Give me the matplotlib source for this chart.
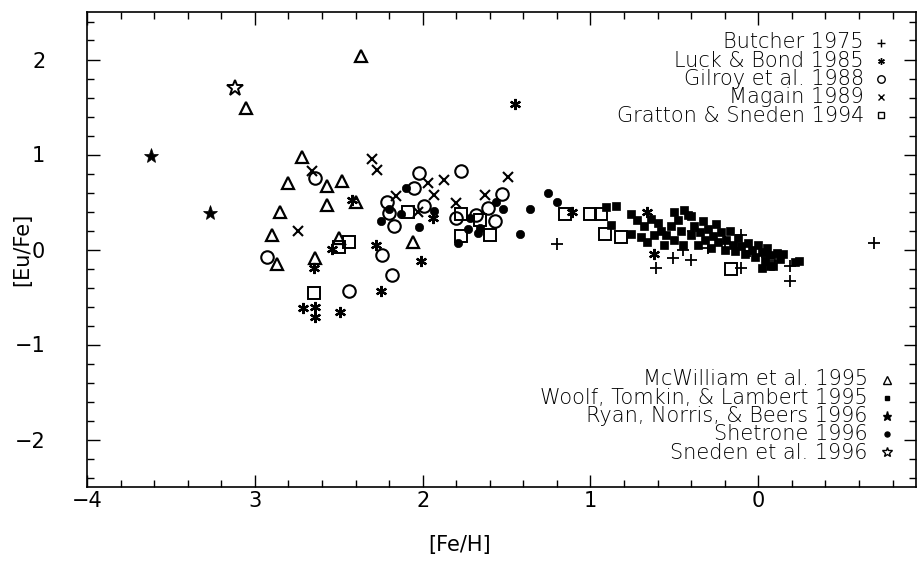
import matplotlib
matplotlib.use("Agg")
import matplotlib.pyplot as plt
from matplotlib.ticker import MultipleLocator, FixedLocator

# ---------------- data ([Fe/H], [Eu/Fe]) ----------------
butcher_x = [-1.20, -0.61, -0.51, -0.40, -0.39, -0.10, -0.10, 0.19, 0.19, 0.69,
             -0.30, -0.20, -0.05, 0.05, -0.45, 0.10]
butcher_y = [0.06, -0.19, -0.09, -0.11, 0.20, 0.15, -0.19, -0.17, -0.33, 0.07,
             0.02, 0.08, -0.02, -0.08, 0.00, -0.12]

luck_x = [-2.42, -2.54, -2.28, -2.65, -2.71, -2.64, -2.64, -2.49, -2.25, -2.01,
          -1.94, -1.11, -0.66, -0.62, -1.45]
luck_y = [0.52, 0.01, 0.05, -0.19, -0.62, -0.60, -0.71, -0.66, -0.44, -0.12,
          0.33, 0.39, 0.39, -0.05, 1.53]

gilroy_x = [-2.64, -2.93, -2.24, -2.18, -2.44, -2.21, -2.20, -2.17, -2.02, -2.05,
            -1.77, -1.99, -1.80, -1.68, -1.61, -1.53, -1.57]
gilroy_y = [0.75, -0.08, -0.06, -0.27, -0.44, 0.50, 0.38, 0.25, 0.81, 0.65,
            0.83, 0.46, 0.33, 0.36, 0.44, 0.58, 0.30]

magain_x = [-2.66, -2.30, -2.27, -2.74, -2.16, -1.97, -1.87, -1.49, -1.93, -1.63,
            -1.80, -2.03]
magain_y = [0.83, 0.95, 0.84, 0.20, 0.56, 0.70, 0.73, 0.76, 0.57, 0.57,
            0.49, 0.39]

gratton_x = [-2.44, -2.50, -2.65, -2.09, -1.77, -1.66, -1.77, -1.60, -1.15, -1.00,
             -0.94, -0.915, -0.815, -0.16]
gratton_y = [0.08, 0.03, -0.46, 0.39, 0.37, 0.31, 0.14, 0.15, 0.37, 0.37,
             0.37, 0.16, 0.13, -0.21]

mcwilliam_x = [-2.37, -3.05, -2.72, -2.80, -2.57, -2.48, -2.57, -2.40, -2.85, -2.90,
               -2.87, -2.50, -2.64, -2.06]
mcwilliam_y = [2.04, 1.49, 0.97, 0.70, 0.67, 0.72, 0.47, 0.50, 0.40, 0.15,
               -0.15, 0.12, -0.09, 0.08]

woolf_x = [-0.85, -0.76, -0.72, -0.68, -0.70, -0.66, -0.875, -0.91, -0.60, -0.58,
           -0.55, -0.52, -0.50, -0.48, -0.46, -0.45, -0.44, -0.50, -0.42, -0.40,
           -0.38, -0.36, -0.35, -0.32, -0.30, -0.28, -0.27, -0.25, -0.24, -0.22,
           -0.20, -0.19, -0.17, -0.15, -0.14, -0.12, -0.10, -0.08, -0.06, -0.04,
           -0.02, 0.00, 0.02, 0.04, 0.05, 0.07, 0.09, 0.11, 0.13, 0.15,
           0.02, 0.07, 0.22, 0.24, -0.64, -0.56, -0.62, -0.33, -0.40, -0.76]
woolf_y = [0.46, 0.37, 0.31, 0.25, 0.13, 0.08, 0.26, 0.45, 0.28, 0.20,
           0.15, 0.25, 0.10, 0.31, 0.20, 0.05, 0.42, 0.40, 0.36, 0.15,
           0.25, 0.05, 0.18, 0.10, 0.22, 0.02, 0.14, 0.27, 0.08, 0.18,
           0.00, 0.10, 0.20, 0.05, -0.02, 0.12, 0.04, -0.05, 0.07, 0.00,
           -0.08, 0.05, -0.03, -0.12, 0.02, -0.06, -0.17, -0.04, -0.10, -0.05,
           -0.19, -0.17, -0.13, -0.12, 0.32, 0.05, 0.15, 0.30, 0.35, 0.16]

ryan_x = [-3.62, -3.27]
ryan_y = [0.98, 0.38]

shetrone_x = [-2.10, -2.25, -2.20, -2.13, -1.93, -2.02, -1.56, -1.52, -1.72, -1.66,
              -1.73, -1.79, -1.67, -1.42, -1.36, -1.25, -1.20]
shetrone_y = [0.65, 0.30, 0.43, 0.37, 0.41, 0.24, 0.50, 0.43, 0.33, 0.23,
              0.22, 0.07, 0.17, 0.16, 0.43, 0.59, 0.50]

sneden_x = [-3.12]
sneden_y = [1.70]

legend_top = ["Butcher 1975", "Luck & Bond 1985", "Gilroy et al. 1988",
              "Magain 1989", "Gratton & Sneden 1994"]
legend_bottom = ["McWilliam et al. 1995", "Woolf, Tomkin, & Lambert 1995",
                 "Ryan, Norris, & Beers 1996", "Shetrone 1996", "Sneden et al. 1996"]

xtick_vals = [-4, -3, -2, -1, 0]
xtick_labels = ["\u22124", "3", "2", "1", "0"]
ytick_vals = [-2, -1, 0, 1, 2]
ytick_labels = ["\u22122", "\u22121", "0", "1", "2"]

# ---------------- figure ----------------
W, H = 918, 569
fig = plt.figure(figsize=(W / 100, H / 100), dpi=100)
L, R, T, B = 87, 916, 12, 487
ax = fig.add_axes([L / W, 1 - B / H, (R - L) / W, (B - T) / H])
ax.set_xlim(-4, 0.94)
ax.set_ylim(-2.5, 2.5)

plt.rcParams["font.family"] = ["DejaVu Sans"]

k = "black"
styles = {
    "butcher": dict(marker="+", ms=9, mew=1.3, mfc="none", mec=k),
    "luck": dict(marker=(6, 2, 0), ms=8, mew=1.6, mfc="none", mec=k),
    "gilroy": dict(marker="o", ms=9, mew=1.5, mfc="none", mec=k),
    "magain": dict(marker="x", ms=7, mew=1.5, mfc="none", mec=k),
    "gratton": dict(marker="s", ms=8, mew=1.4, mfc="none", mec=k),
    "mcwilliam": dict(marker="^", ms=8.5, mew=1.6, mfc="none", mec=k),
    "woolf": dict(marker="s", ms=6, mew=0.5, mfc=k, mec=k),
    "ryan": dict(marker="*", ms=11, mew=0.5, mfc=k, mec=k),
    "shetrone": dict(marker="o", ms=6, mew=0.5, mfc=k, mec=k),
    "sneden": dict(marker="*", ms=12, mew=1.4, mfc="none", mec=k),
}
series = [
    ("woolf", woolf_x, woolf_y),
    ("butcher", butcher_x, butcher_y),
    ("luck", luck_x, luck_y),
    ("gilroy", gilroy_x, gilroy_y),
    ("magain", magain_x, magain_y),
    ("gratton", gratton_x, gratton_y),
    ("mcwilliam", mcwilliam_x, mcwilliam_y),
    ("ryan", ryan_x, ryan_y),
    ("shetrone", shetrone_x, shetrone_y),
    ("sneden", sneden_x, sneden_y),
]
for name, xs, ys in series:
    ax.plot(xs, ys, ls="none", **styles[name])

# ---------------- axes styling ----------------
for s in ax.spines.values():
    s.set_linewidth(1.2)
ax.xaxis.set_major_locator(FixedLocator(xtick_vals))
ax.set_xticklabels(xtick_labels)
ax.yaxis.set_major_locator(FixedLocator(ytick_vals))
ax.set_yticklabels(ytick_labels)
ax.xaxis.set_minor_locator(MultipleLocator(0.2))
ax.yaxis.set_minor_locator(MultipleLocator(0.2))
ax.tick_params(which="both", direction="in", top=True, right=True, width=1.0)
ax.tick_params(which="major", length=9, labelsize=15)
ax.tick_params(which="minor", length=5)
ax.tick_params(axis="x", which="major", pad=3)
ax.tick_params(axis="y", which="major", pad=30)

ax.set_xlabel("[Fe/H]", fontsize=15)
ax.set_ylabel("[Eu/Fe]", fontsize=15)
ax.xaxis.set_label_coords((460 - L) / (R - L), (B - 535) / (B - T))
ax.yaxis.set_label_coords((32 - L) / (R - L), 0.5)

# ---------------- legends (multi-line text + markers) ----------------
def fx(px):
    return (px - L) / (R - L)

def fy(py):
    return (B - py) / (B - T)

STEP = 18.0  # pixel distance between legend rows
LEG_FS = 15

def draw_legend(labels, names, first_row, text_right, marker_x):
    n = len(labels)
    mid = first_row + STEP * (n - 1) / 2
    txt = ax.text(fx(text_right), fy(mid), "\n".join(labels), transform=ax.transAxes,
                  ha="right", va="center", multialignment="right", color="black",
                  fontsize=LEG_FS, fontweight="light", linespacing=1.0)
    fig.canvas.draw()
    r = fig.canvas.get_renderer()
    bb1 = txt.get_window_extent(r)
    one = ax.text(0, 0, labels[0], fontsize=LEG_FS, fontweight="light",
                  transform=ax.transAxes)
    h1 = one.get_window_extent(r).height
    one.remove()
    natural_step = (bb1.height - h1) / (n - 1)
    txt.set_linespacing(STEP / natural_step)
    for i, nm in enumerate(names):
        py = first_row + STEP * i
        st = dict(styles[nm])
        st["ms"] = st["ms"] * 0.6
        st["mew"] = 1.0
        ax.plot([fx(marker_x)], [fy(py)], ls="none", transform=ax.transAxes,
                clip_on=False, **st)

draw_legend(legend_top, ["butcher", "luck", "gilroy", "magain", "gratton"],
            43, 864, 881)
draw_legend(legend_bottom, ["mcwilliam", "woolf", "ryan", "shetrone", "sneden"],
            380, 868, 887)

fig.savefig("out.png", dpi=100)
